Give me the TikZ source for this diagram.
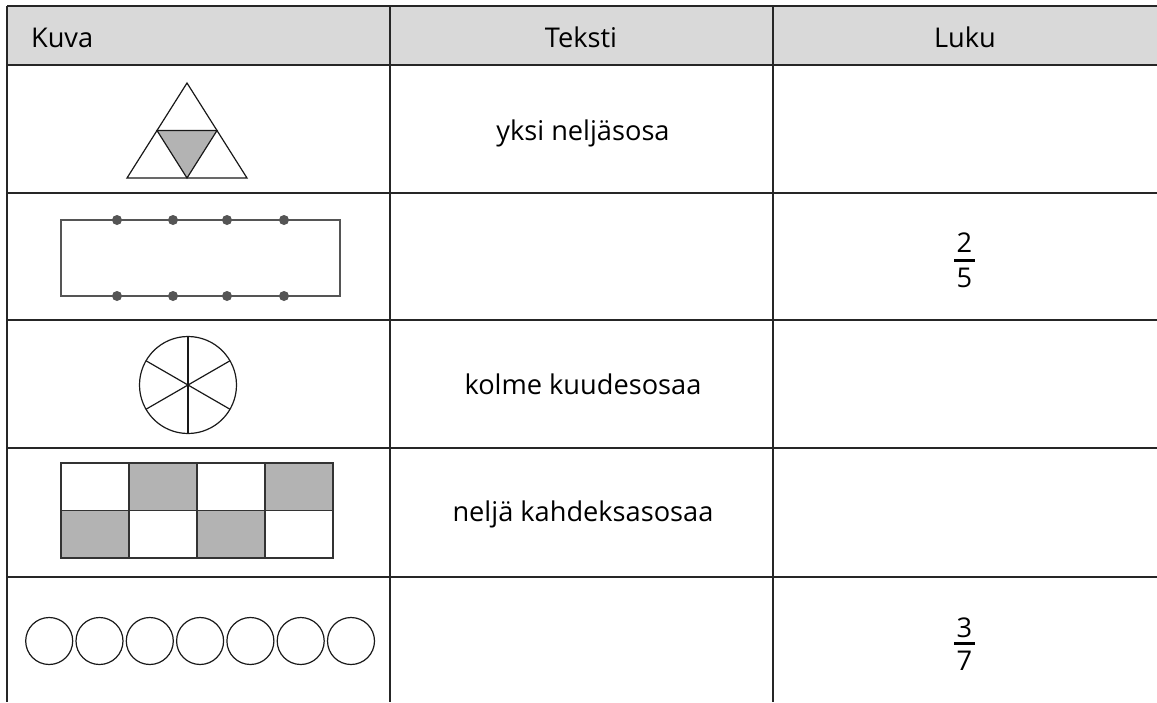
\documentclass[tikz,border=0pt]{standalone}
\usepackage{fontspec}
\setmainfont{Open Sans}
\definecolor{headgray}{HTML}{D9D9D9}
\definecolor{cellgray}{HTML}{B3B3B3}
\definecolor{dotgray}{HTML}{555555}
\begin{document}
\begin{tikzpicture}[x=0.5pt,y=-0.5pt,font=\fontsize{13.6}{16}\selectfont,
  rule/.style={line width=1pt,draw=black!85},
  figline/.style={line width=0.6pt,draw=black!90},
  fracbar/.style={line width=1.5pt}]

  \useasboundingbox (0,0) rectangle (1157,702);

  % table
  \fill[headgray] (7,6) rectangle (1157,65);
  \draw[rule] (7,6) -- (1157,6);
  \foreach \y in {65,193,320,448,577}
    \draw[rule] (7,\y) -- (1157,\y);
  \foreach \x in {7,390,773}
    \draw[rule] (\x,6) -- (\x,702);

  \node[anchor=base west] (hkuva) at (24,47) {Kuva};
  \node[anchor=base] (hteksti) at (581,47) {Teksti};
  \node[anchor=base] (hluku) at (965,47) {Luku};

  % texts
  \node[anchor=base] (t1) at (583,140) {yksi neljäsosa};
  \node[anchor=base] (t3) at (583,394) {kolme kuudesosaa};
  \node[anchor=base] (t4) at (583,521) {neljä kahdeksasosaa};

  % triangle
  \coordinate (tA) at (187,83);
  \coordinate (tB) at (127,178);
  \coordinate (tC) at (247,178);
  \coordinate (tAB) at (157,130.5);
  \coordinate (tAC) at (217,130.5);
  \coordinate (tBC) at (187,178);
  \fill[cellgray] (tAB) -- (tAC) -- (tBC) -- cycle;
  \draw[figline] (tA) -- (tB) -- (tC) -- cycle;
  \draw[figline] (tAB) -- (tAC) -- (tBC) -- cycle;

  % rectangle with dots
  \draw[line width=0.7pt,dotgray] (61,220) rectangle (340,296);
  \foreach \x in {117,173,227,284}{
    \fill[dotgray] (\x,220) circle (5);
    \fill[dotgray] (\x,296) circle (5);}

  % circle in six
  \coordinate (pie) at (188,385);
  \draw[figline] (pie) circle (48.5);
  \foreach \a in {90,30,150}
    \draw[figline] (pie) +(\a:48.5) -- +(\a+180:48.5);

  % grid 4x2
  \foreach \c/\r in {1/0,3/0,0/1,2/1}
    \fill[cellgray] ({61+68*\c},{463+47.5*\r}) rectangle +(68,47.5);
  \begin{scope}[line width=0.7pt,draw=black!80]
    \draw (61,463) rectangle (333,558);
    \draw (61,510.5) -- (333,510.5);
    \foreach \x in {129,197,265}
      \draw (\x,463) -- (\x,558);
  \end{scope}

  % seven circles
  \foreach \i in {0,...,6}
    \draw[figline] ({49.2+50.3*\i},641) circle (23.5);

  % fractions
  \node[anchor=base] (num2) at (964.5,252) {2};
  \draw[fracbar] (954,260) -- (975,260);
  \node[anchor=base] (den5) at (964.5,287) {5};

  \node[anchor=base] (num3) at (964.5,637) {3};
  \draw[fracbar] (954,643) -- (975,643);
  \node[anchor=base] (den7) at (964.5,670) {7};
\end{tikzpicture}
\end{document}
